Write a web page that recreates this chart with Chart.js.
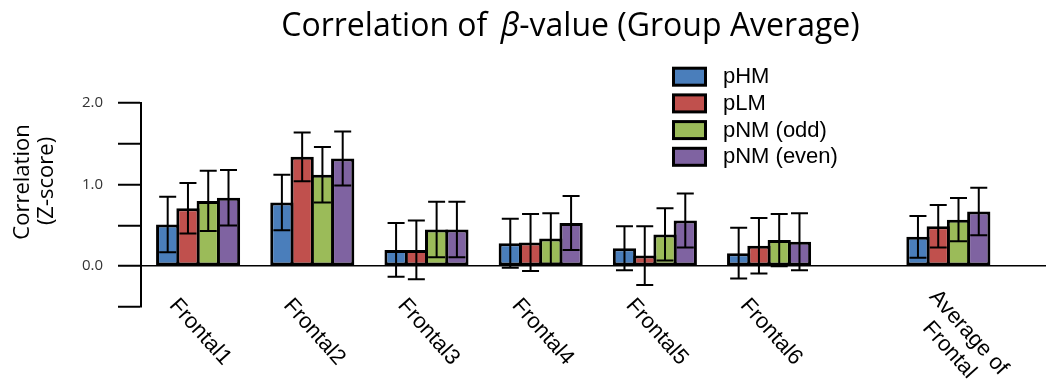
<!DOCTYPE html>
<html><head><meta charset="utf-8">
<script src="https://cdn.jsdelivr.net/npm/chart.js@4.4.0/dist/chart.umd.min.js"></script>
<style>html,body{margin:0;padding:0;background:#fff;}#wrap{width:1046px;height:383px;position:relative;}</style>
</head><body><div id="wrap"><canvas id="c"></canvas></div>
<script>
// ---- data ----
const categories = ['Frontal1','Frontal2','Frontal3','Frontal4','Frontal5','Frontal6',['Average of','Frontal']];
const categoryPositions = [1,2,3,4,5,6,7.57];
const seriesNames = ['pHM','pLM','pNM (odd)','pNM (even)'];
const pHM      = [0.51,0.78,0.20,0.28,0.22,0.16,0.36];
const pHMErr   = [0.34,0.34,0.33,0.30,0.27,0.31,0.255];
const pLM      = [0.71,1.34,0.20,0.29,0.13,0.25,0.49];
const pLMErr   = [0.31,0.30,0.36,0.35,0.36,0.34,0.26];
const pNModd   = [0.80,1.12,0.45,0.34,0.39,0.32,0.57];
const pNModdErr= [0.37,0.34,0.34,0.31,0.32,0.32,0.265];
const pNMeven  = [0.84,1.32,0.45,0.53,0.56,0.30,0.67];
const pNMevenErr=[0.34,0.33,0.34,0.33,0.33,0.35,0.29];
const yTickValues = [-0.5,0,0.5,1,1.5,2];
const yTickLabels = ['', '0.0', '', '1.0', '', '2.0'];
const titleParts = ['Correlation of ', 'β', '-value (Group Average)'];
const yTitleLines = ['Correlation', '(Z-score)'];

const values = [pHM, pLM, pNModd, pNMeven];
const errors = [pHMErr, pLMErr, pNModdErr, pNMevenErr];
const colors = ['#4a7ebb', '#c0504d', '#9bbb59', '#7f63a1'];

const datasets = seriesNames.map((name, s) => ({
  label: name,
  data: categoryPositions.map((x, i) => ({x: x, y: values[s][i]})),
  errors: errors[s],
  backgroundColor: colors[s],
  borderColor: '#000',
  borderWidth: 3,
  borderSkipped: false,
  categoryPercentage: 0.71,
  barPercentage: 1.148,
  inflateAmount: 0
}));

const drawPlugin = {
  id: 'custom',
  afterDatasetsDraw(chart) {
    const ctx = chart.ctx, ys = chart.scales.y;
    ctx.save();
    ctx.strokeStyle = '#000';
    ctx.lineWidth = 2;
    chart.data.datasets.forEach((ds, di) => {
      const meta = chart.getDatasetMeta(di);
      meta.data.forEach((el, i) => {
        const v = ds.data[i].y, e = ds.errors[i];
        const x = el.x;
        const yt = ys.getPixelForValue(v + e), yb = ys.getPixelForValue(v - e);
        const cap = 8.5;
        ctx.beginPath();
        ctx.moveTo(x, yt); ctx.lineTo(x, yb);
        ctx.moveTo(x - cap, yt); ctx.lineTo(x + cap, yt);
        ctx.moveTo(x - cap, yb); ctx.lineTo(x + cap, yb);
        ctx.stroke();
      });
    });
    ctx.restore();
  },
  afterDraw(chart) {
    const ctx = chart.ctx, xs = chart.scales.x;
    ctx.save();
    // title
    const tf = '32px "Open Sans"', tfi = 'italic 32px "Open Sans"';
    ctx.fillStyle = '#000';
    ctx.textBaseline = 'alphabetic';
    ctx.textAlign = 'left';
    const fonts = [tf, tfi, tf];
    const widths = titleParts.map((t, k) => { ctx.font = fonts[k]; return ctx.measureText(t).width; });
    const gap = 5;
    const total = widths.reduce((a, b) => a + b, 0) + gap;
    let tx = 570.5 - total / 2;
    titleParts.forEach((t, k) => {
      ctx.font = fonts[k];
      ctx.fillText(t, tx, 36);
      tx += widths[k] + (k === 0 ? gap : 0);
    });
    // y title
    ctx.font = '22px "Open Sans"';
    ctx.textAlign = 'center';
    ctx.textBaseline = 'middle';
    const yPos = [[22.5, 182], [46.5, 181]];
    yTitleLines.forEach((t, k) => {
      ctx.save();
      ctx.translate(yPos[k][0], yPos[k][1]);
      ctx.rotate(-Math.PI / 2);
      ctx.fillText(t, 0, 0);
      ctx.restore();
    });
    // legend
    ctx.font = '22px "Liberation Sans"';
    ctx.textAlign = 'left';
    ctx.textBaseline = 'middle';
    chart.data.datasets.forEach((ds, di) => {
      const by = 66.7 + di * 26.7;
      ctx.fillStyle = ds.backgroundColor;
      ctx.fillRect(673.5, by + 1.5, 32, 17);
      ctx.strokeStyle = '#000';
      ctx.lineWidth = 3;
      ctx.strokeRect(673.5, by + 1.5, 32, 17);
      ctx.fillStyle = '#000';
      ctx.fillText(ds.label, 723, by + 10.5);
    });
    // x labels
    ctx.font = '22px "Liberation Sans"';
    ctx.textAlign = 'left';
    ctx.textBaseline = 'middle';
    const ang = 48 * Math.PI / 180;
    categories.forEach((lab, i) => {
      const lines = Array.isArray(lab) ? lab : [lab];
      const lw = lines.map(l => ctx.measureText(l).width);
      const maxW = Math.max(...lw);
      const sx = xs.getPixelForValue(categoryPositions[i]) - 25;
      const sy = 302;
      ctx.save();
      ctx.translate(sx, sy);
      ctx.rotate(ang);
      const lh = 26;
      lines.forEach((ln, k) => {
        ctx.fillText(ln, (maxW - lw[k]) / 2, (k - (lines.length - 1) / 2) * lh);
      });
      ctx.restore();
    });
    ctx.restore();
  }
};

new Chart(document.getElementById('c'), {
  type: 'bar',
  data: { datasets: datasets },
  options: {
    responsive: true,
    maintainAspectRatio: false,
    animation: false,
    layout: { padding: { top: 103, bottom: 76, left: 0, right: 0 } },
    plugins: { legend: { display: false }, title: { display: false }, tooltip: { enabled: false } },
    scales: {
      x: {
        type: 'linear',
        display: false,
        offset: false,
        min: 0.5,
        max: 8.425,
        afterBuildTicks(scale) { scale.ticks = categoryPositions.map(v => ({ value: v })); }
      },
      y: {
        min: -0.5,
        max: 2,
        afterFit(scale) { scale.width = 141; },
        afterBuildTicks(scale) { scale.ticks = yTickValues.map(v => ({ value: v })); },
        ticks: {
          padding: 15,
          color: '#333',
          font: { family: '"Open Sans"', size: 15 },
          callback: (v) => { const k = yTickValues.indexOf(v); return k >= 0 ? yTickLabels[k] : ''; }
        },
        grid: {
          drawOnChartArea: true,
          color: (c) => (c.tick && c.tick.value === 0 ? '#000' : 'rgba(0,0,0,0)'),
          lineWidth: 1.5,
          tickLength: 23,
          tickColor: '#000',
          tickWidth: 2
        },
        border: { display: true, color: '#000', width: 2 }
      }
    }
  },
  plugins: [drawPlugin]
});
</script></body></html>
